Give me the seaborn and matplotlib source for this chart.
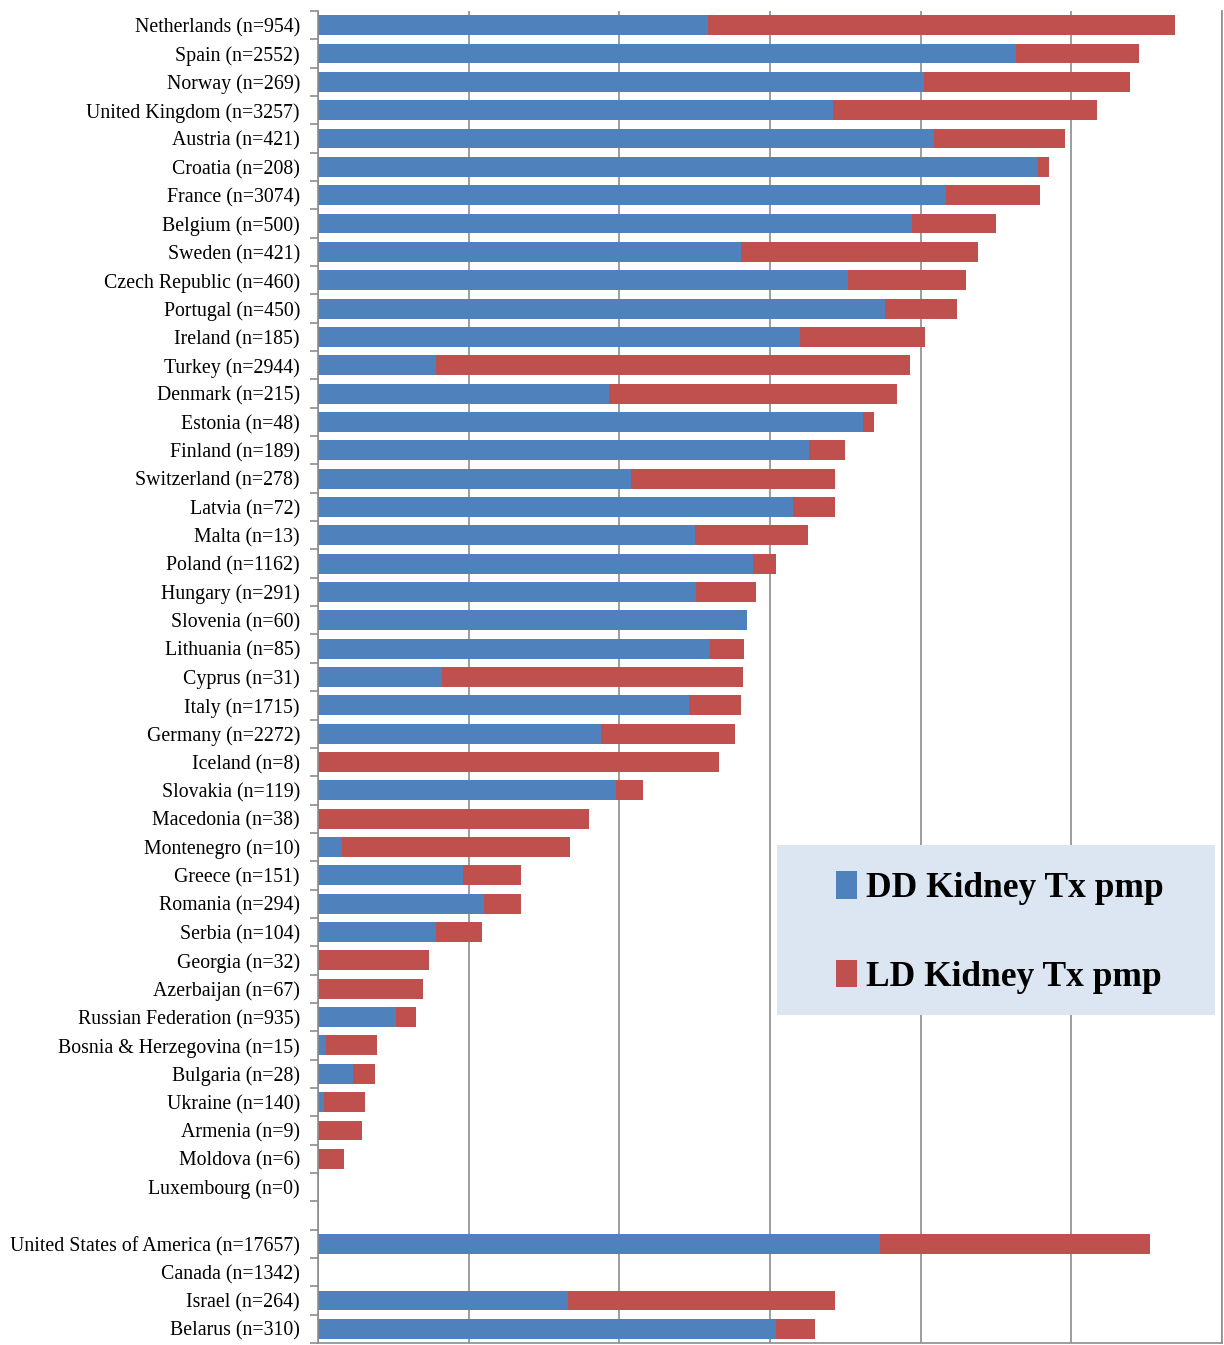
import pandas as pd
import matplotlib.pyplot as plt
import seaborn as sns
from matplotlib.patches import Patch, Rectangle
from matplotlib.ticker import MultipleLocator, FixedLocator

# 1. Data (pmp values)
countries = [
    'Netherlands (n=954)', 'Spain (n=2552)', 'Norway (n=269)', 'United Kingdom (n=3257)',
    'Austria (n=421)', 'Croatia (n=208)', 'France (n=3074)', 'Belgium (n=500)',
    'Sweden (n=421)', 'Czech Republic (n=460)', 'Portugal (n=450)', 'Ireland (n=185)',
    'Turkey (n=2944)', 'Denmark (n=215)', 'Estonia (n=48)', 'Finland (n=189)',
    'Switzerland (n=278)', 'Latvia (n=72)', 'Malta (n=13)', 'Poland (n=1162)',
    'Hungary (n=291)', 'Slovenia (n=60)', 'Lithuania (n=85)', 'Cyprus (n=31)',
    'Italy (n=1715)', 'Germany (n=2272)', 'Iceland (n=8)', 'Slovakia (n=119)',
    'Macedonia (n=38)', 'Montenegro (n=10)', 'Greece (n=151)', 'Romania (n=294)',
    'Serbia (n=104)', 'Georgia (n=32)', 'Azerbaijan (n=67)', 'Russian Federation (n=935)',
    'Bosnia & Herzegovina (n=15)', 'Bulgaria (n=28)', 'Ukraine (n=140)', 'Armenia (n=9)',
    'Moldova (n=6)', 'Luxembourg (n=0)', ' ',
    'United States of America (n=17657)', 'Canada (n=1342)', 'Israel (n=264)', 'Belarus (n=310)',
]
dd_pmp = [
    25.9, 46.3, 40.2, 34.2, 40.9, 47.8, 41.7, 39.4,
    28.1, 35.2, 37.6, 32.0, 7.8, 19.3, 36.2, 32.6,
    20.8, 31.5, 25.0, 28.9, 25.1, 28.5, 26.0, 8.2,
    24.6, 18.8, 0.0, 19.8, 0.0, 1.6, 9.6, 11.0,
    7.8, 0.0, 0.0, 5.2, 0.5, 2.3, 0.4, 0.0,
    0.0, 0.0, 0.0,
    37.3, 0.0, 16.6, 30.4,
]
ld_pmp = [
    31.0, 8.2, 13.7, 17.5, 8.7, 0.7, 6.2, 5.6,
    15.7, 7.8, 4.8, 8.3, 31.5, 19.1, 0.7, 2.4,
    13.5, 2.8, 7.5, 1.5, 4.0, 0.0, 2.3, 20.0,
    3.5, 8.9, 26.6, 1.8, 18.0, 15.1, 3.9, 2.5,
    3.1, 7.4, 7.0, 1.3, 3.4, 1.5, 2.7, 2.9,
    1.7, 0.0, 0.0,
    17.9, 0.0, 17.7, 2.6,
]

df = pd.DataFrame({'country': countries, 'dd': dd_pmp, 'ld': ld_pmp})
df['total'] = df['dd'] + df['ld']

blue = '#4f81bd'
red = '#c0504d'
grid_c = '#8c8c8c'

# 2. Figure
fig = plt.figure(figsize=(12.24, 13.45), dpi=100)
ax = fig.add_axes([0.2598, 0.0015, 0.7386, 0.9903])

# stacked bars: total (red) first, then DD (blue) on top
sns.barplot(data=df, y='country', x='total', order=countries, color=red,
            width=0.7, saturation=1, ax=ax, orient='h')
sns.barplot(data=df, y='country', x='dd', order=countries, color=blue,
            width=0.7, saturation=1, ax=ax, orient='h')

ax.set_xlim(0, 60)
ax.set_ylim(len(countries) - 0.5, -0.5)
ax.xaxis.set_major_locator(MultipleLocator(10))
ax.set_xticklabels([])
ax.tick_params(axis='x', length=0)
ax.grid(axis='x', color=grid_c, linewidth=1.2)
ax.set_axisbelow(True)
ax.set_xlabel('')
ax.set_ylabel('')

# Excel-style: tick marks between categories, labels at centers
ax.tick_params(axis='y', which='major', length=0, pad=13)
ax.yaxis.set_minor_locator(FixedLocator([i - 0.5 for i in range(len(countries) + 1)]))
ax.tick_params(axis='y', which='minor', length=6, color=grid_c, width=1.2)
for lbl in ax.get_yticklabels():
    lbl.set_fontfamily('Liberation Serif')
    lbl.set_fontsize(14.3)

for side in ['left', 'bottom', 'right']:
    ax.spines[side].set_color(grid_c)
    ax.spines[side].set_linewidth(1.2)
ax.spines['top'].set_visible(False)

# 3. Legend: shaded box plus frameless legend on top
ax.add_patch(Rectangle((0.5077, 0.2462), 0.4846, 0.1276, transform=ax.transAxes,
                       facecolor='#dce6f2', edgecolor='none', zorder=4))
handles = [Patch(facecolor=blue, label='DD Kidney Tx pmp'),
           Patch(facecolor=red, label='LD Kidney Tx pmp')]
leg = ax.legend(handles=handles, loc='center left', bbox_to_anchor=(0.573, 0.308),
                frameon=False, handlelength=0.6, handleheight=0.8,
                handletextpad=0.25, labelspacing=1.55, borderpad=0, borderaxespad=0,
                prop={'family': 'Liberation Serif', 'weight': 'bold', 'size': 25.5})
leg.set_zorder(5)

fig.savefig('out.png', dpi=100)
